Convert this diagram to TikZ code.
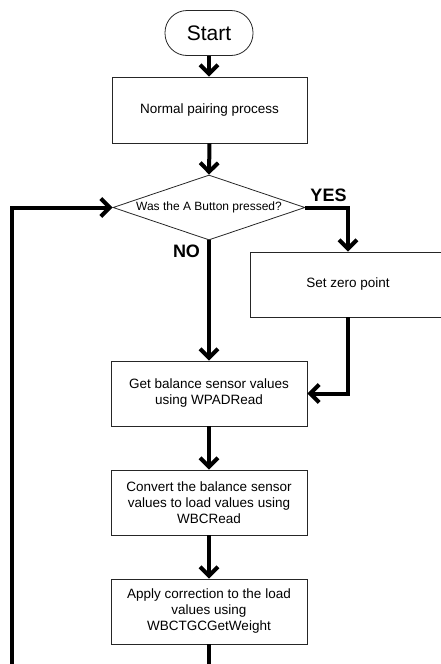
\documentclass[tikz,border=0pt]{standalone}
\usepackage{fontspec}
\setmainfont{Liberation Sans}
\usetikzlibrary{arrows.meta,shapes.geometric}
\begin{document}
\begin{tikzpicture}[x=1pt,y=-1pt,
  flow/.style={line width=4pt, -{Straight Barb[length=9pt,width=18pt]}},
  procbox/.style={draw=black!85, line width=0.8pt, minimum width=196pt, minimum height=65pt,
    align=center, font=\fontsize{13.5}{16}\selectfont, inner sep=2pt},
  termbox/.style={draw=black!85, line width=0.8pt, minimum width=88pt, minimum height=45pt,
    rounded corners=22pt, font=\fontsize{21}{24}\selectfont},
  decbox/.style={draw=black!85, line width=0.8pt, shape=diamond, minimum width=192pt,
    minimum height=65pt, aspect=2.95, inner sep=0pt, font=\fontsize{12}{14}\selectfont},
  lab/.style={font=\fontsize{18}{20}\selectfont\bfseries, inner sep=0pt}]
\useasboundingbox (0,0) rectangle (440,664);
\node[termbox] (start) at (209,33) {Start};
\node[procbox, minimum width=195pt, minimum height=66pt] (normal) at (209.5,110) {Normal pairing process};
\node[decbox] (dec) at (209,207.5) {Was the A Button pressed?};
\node[procbox] (zero) at (348,284.5) {Set zero point};
\node[procbox] (get) at (209,393.5) {Get balance sensor values\\using WPADRead};
\node[procbox] (conv) at (209,502.5) {Convert the balance sensor\\values to load values using\\WBCRead};
\node[procbox] (apply) at (209,611.5) {Apply correction to the load\\values using\\WBCTGCGetWeight};
\node[lab] (yes) at (328.5,195) {YES};
\node[lab] (no) at (186.5,251) {NO};
\coordinate (lb) at (12,700);
\draw[flow] (start.south) -- (start.south |- normal.north);
\draw[flow] (normal.south) -- (dec.north);
\draw[flow] (dec.east) -| (zero.north);
\draw[flow] (dec.south) -- (get.north);
\draw[flow] (zero.south) |- (get.east);
\draw[flow] (get.south) -- (conv.north);
\draw[flow] (conv.south) -- (apply.north);
\draw[flow] (apply.south) |- (lb) |- (dec.west);
\end{tikzpicture}
\end{document}
